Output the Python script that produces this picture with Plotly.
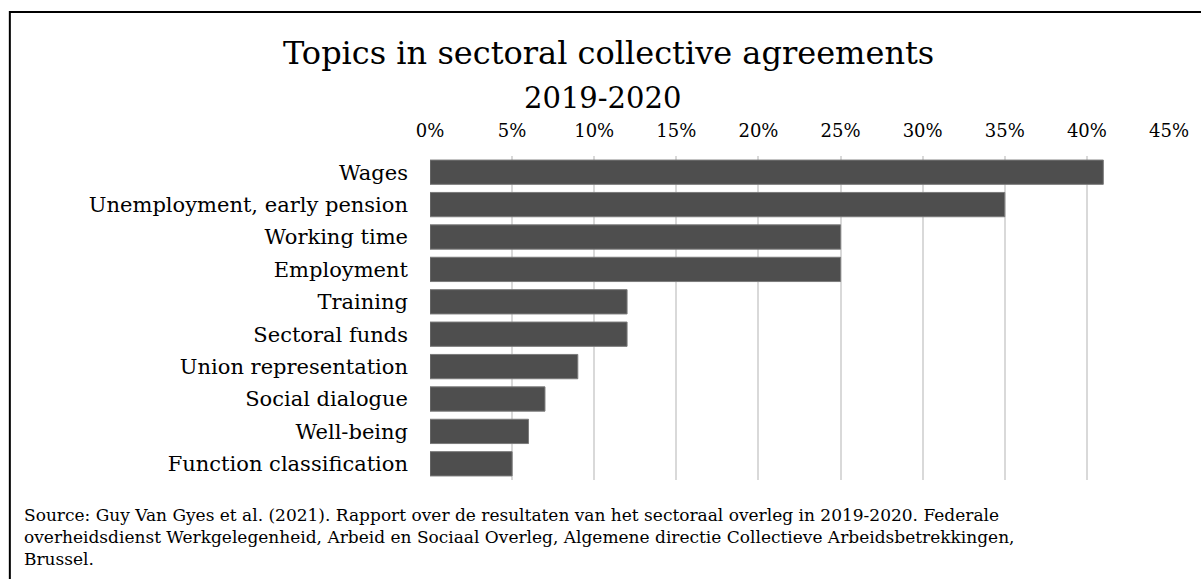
import plotly.graph_objects as go

# Topics covered by sectoral collective agreements, share of agreements (%)
topics = [
    "Wages",
    "Unemployment, early pension",
    "Working time",
    "Employment",
    "Training",
    "Sectoral funds",
    "Union representation",
    "Social dialogue",
    "Well-being",
    "Function classification",
]
shares = [41, 35, 25, 25, 12, 12, 9, 7, 6, 5]
tick_values = [0, 5, 10, 15, 20, 25, 30, 35, 40, 45]
tick_labels = [f"{v}%" for v in tick_values]

title_line1 = "Topics in sectoral collective agreements"
title_line2 = "2019-2020"
source_text = (
    "Source: Guy Van Gyes et al. (2021). Rapport over de resultaten van het sectoraal overleg in 2019-2020. Federale<br>"
    "overheidsdienst Werkgelegenheid, Arbeid en Sociaal Overleg, Algemene directie Collectieve Arbeidsbetrekkingen,<br>"
    "Brussel."
)

W, H = 1201, 579
ML, MR, MT, MB = 430, 27, 156, 99
PW, PH = W - ML - MR, H - MT - MB
FONT = "DejaVu Serif"


def px_x(px):
    return (px - ML) / PW


def px_y(py):
    return (H - MB - py) / PH


fig = go.Figure(
    go.Bar(
        x=shares,
        y=topics,
        orientation="h",
        marker=dict(color="#4e4e4e", line=dict(color="#7a7a7a", width=1)),
        hoverinfo="x+y",
    )
)

fig.update_layout(
    width=W,
    height=H,
    margin=dict(l=ML, r=MR, t=MT, b=MB, pad=0),
    paper_bgcolor="white",
    plot_bgcolor="white",
    bargap=0.25,
    showlegend=False,
    font=dict(family=FONT, color="#000000"),
    xaxis=dict(
        side="top",
        range=[0, 45],
        tickvals=tick_values,
        ticktext=tick_labels,
        showgrid=True,
        gridcolor="#d9d9d9",
        gridwidth=1.5,
        zeroline=False,
        showline=False,
        ticks="",
        ticklabelstandoff=14,
        tickfont=dict(family=FONT, size=18, color="#000000"),
    ),
    yaxis=dict(
        autorange="reversed",
        showgrid=False,
        zeroline=False,
        showline=False,
        ticks="",
        ticklabelstandoff=21,
        tickfont=dict(family=FONT, size=21, color="#000000"),
    ),
    annotations=[
        dict(
            text=title_line1, xref="paper", yref="paper",
            x=px_x(610), y=px_y(53), xanchor="center", yanchor="middle",
            showarrow=False, font=dict(family=FONT, size=32, color="#000000"),
        ),
        dict(
            text=title_line2, xref="paper", yref="paper",
            x=px_x(604), y=px_y(98), xanchor="center", yanchor="middle",
            showarrow=False, font=dict(family=FONT, size=29, color="#000000"),
        ),
        dict(
            text=source_text, xref="paper", yref="paper",
            x=px_x(19), y=px_y(537), xanchor="left", yanchor="middle", align="left",
            showarrow=False, font=dict(family=FONT, size=17, color="#000000"),
        ),
    ],
    shapes=[
        dict(
            type="rect", xref="paper", yref="paper",
            x0=px_x(7), x1=px_x(1210), y0=px_y(590), y1=px_y(12),
            line=dict(color="#000000", width=2), fillcolor="rgba(0,0,0,0)",
            layer="below",
        )
    ],
)

fig.write_html("out.html")
